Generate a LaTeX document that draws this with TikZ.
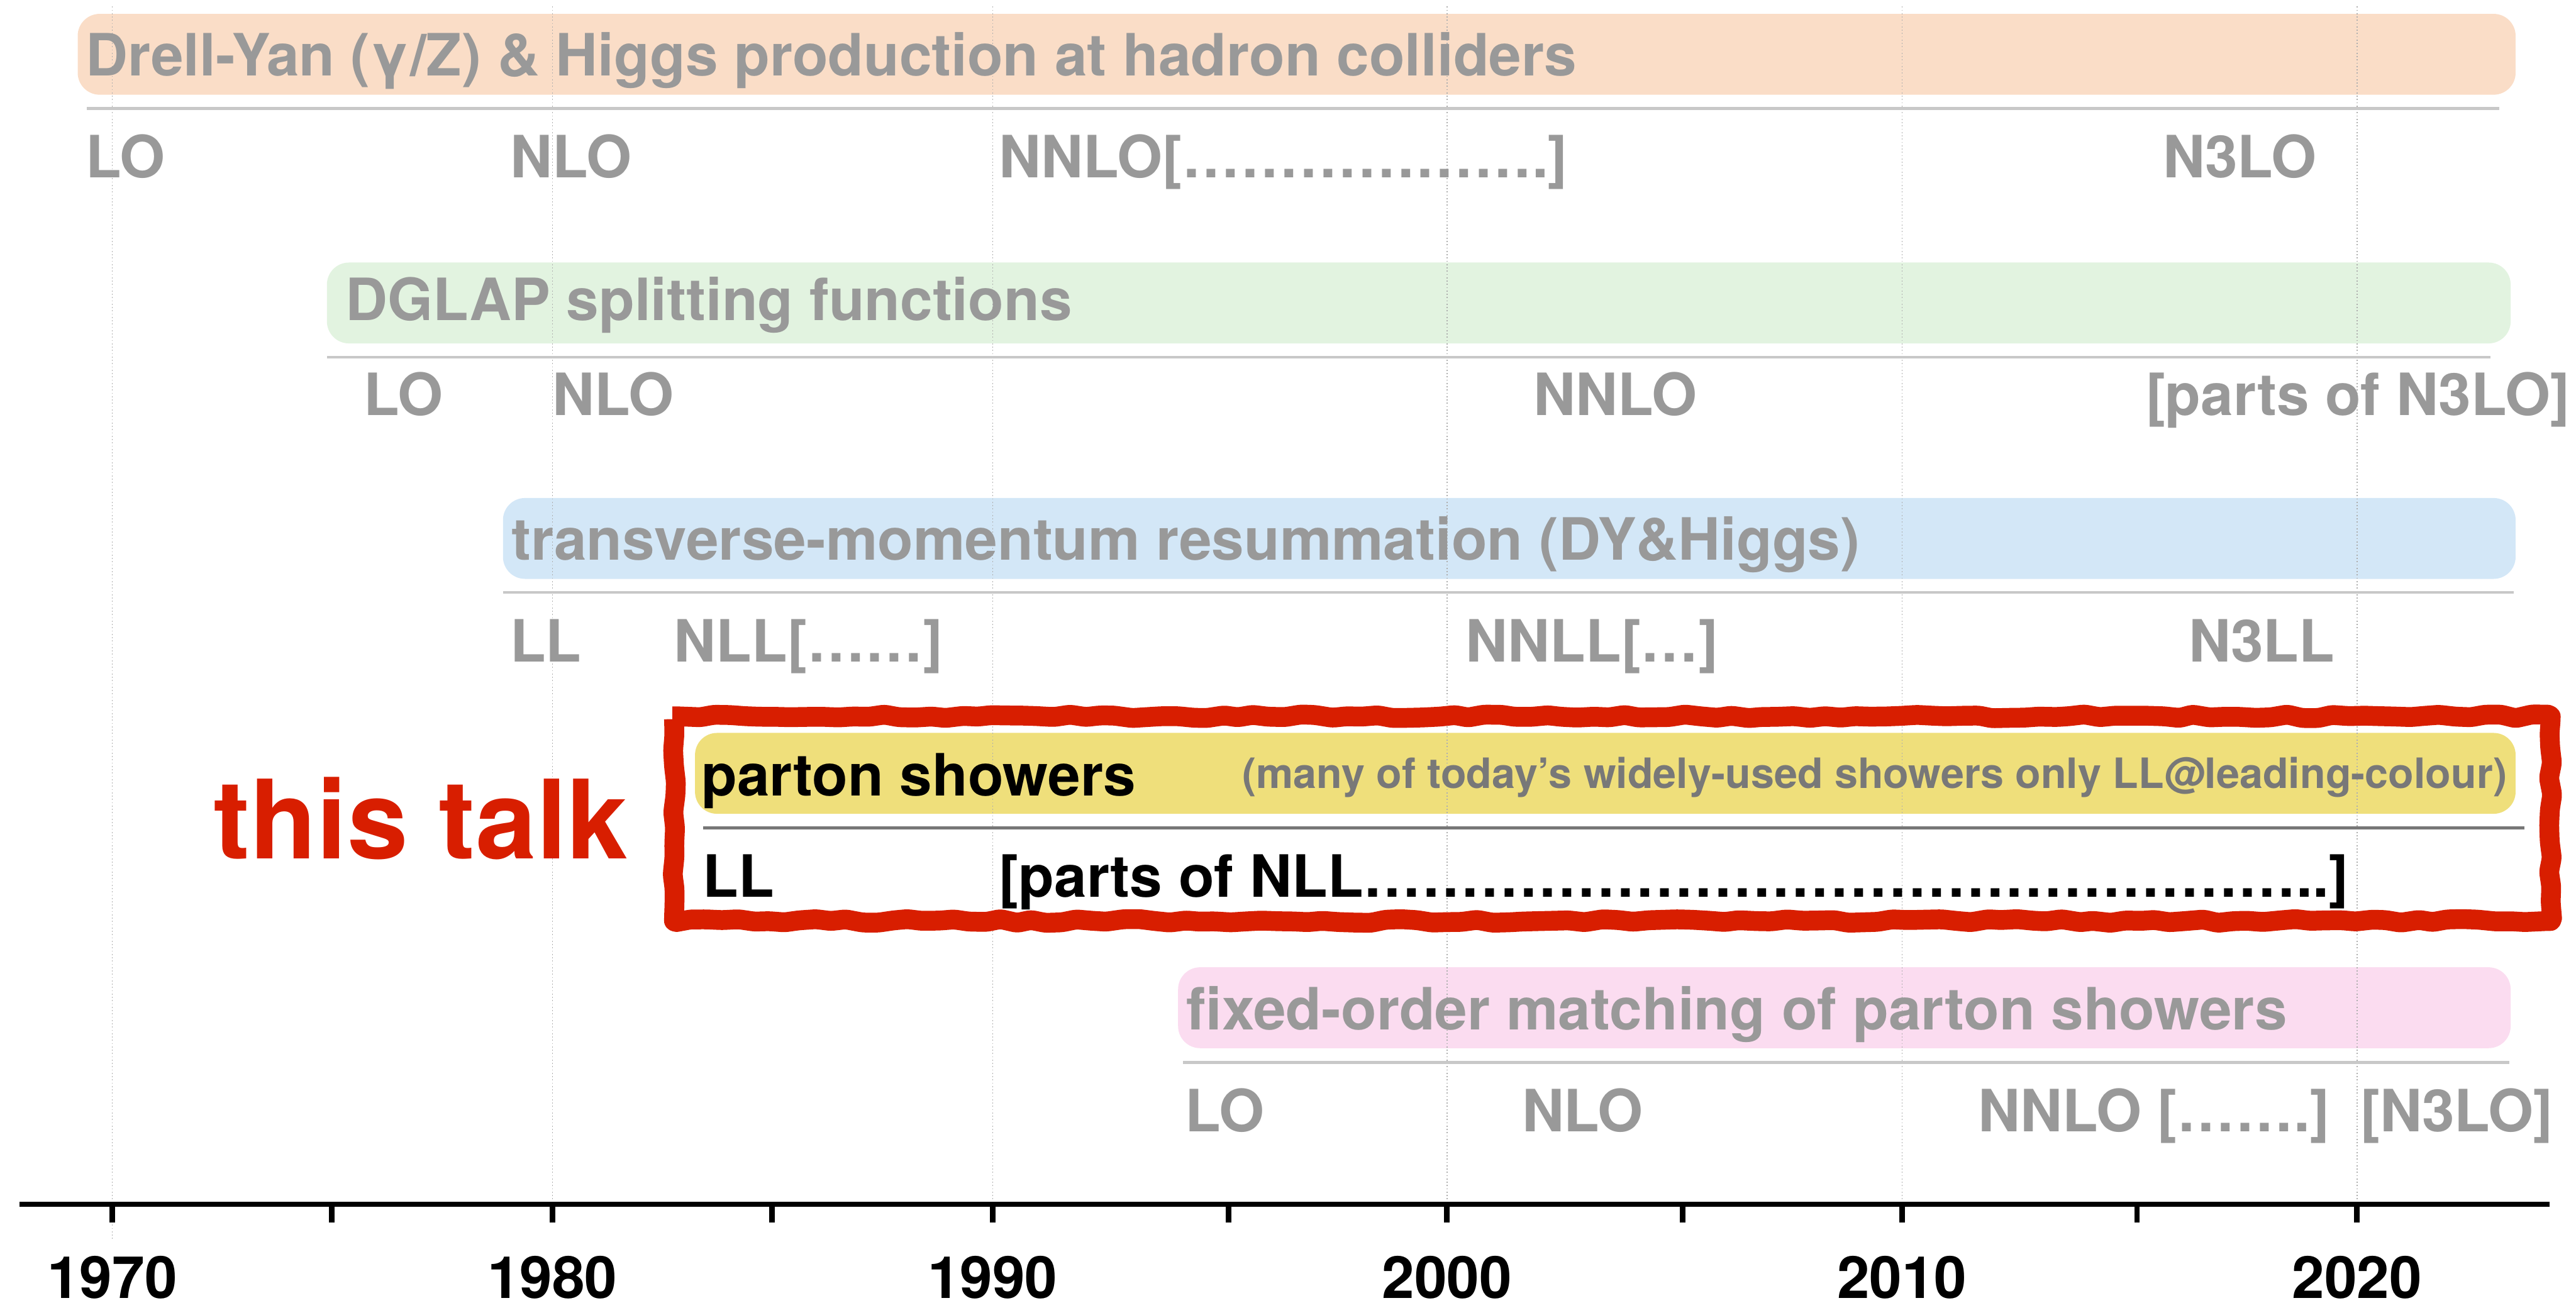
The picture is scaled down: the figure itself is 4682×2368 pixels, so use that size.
\documentclass[tikz,border=0pt]{standalone}
\usepackage{fontspec}
\setmainfont{TeX Gyre Heros}
\usetikzlibrary{decorations.pathmorphing}

\definecolor{barpeach}{RGB}{250,221,199}
\definecolor{bargreen}{RGB}{226,243,224}
\definecolor{barblue}{RGB}{211,231,247}
\definecolor{baryellow}{RGB}{239,223,123}
\definecolor{barpink}{RGB}{251,220,240}
\definecolor{talkred}{RGB}{216,30,0}
\definecolor{labelgray}{RGB}{153,153,153}
\definecolor{notegray}{RGB}{120,120,120}
\definecolor{seplight}{RGB}{200,200,200}
\definecolor{sepdark}{RGB}{119,119,119}
\definecolor{gridgray}{RGB}{175,175,175}

% a run of n ellipsis glyphs
\newcommand\ellrun[1]{\foreach\k in {1,...,#1}{…}}

\begin{document}
\begin{tikzpicture}[x=1pt,y=-1pt,
  big/.style={font=\bfseries\fontsize{106}{120}\selectfont},
  lbl/.style={big, anchor=base west, inner sep=0pt, text=labelgray},
  blk/.style={big, anchor=base west, inner sep=0pt, text=black},
  bar/.style={fill=#1, draw=none, rounded corners=40pt, anchor=north west,
              inner sep=0pt, minimum height=147pt},
  sepline/.style={draw=seplight, line width=5pt},
  gridline/.style={draw=gridgray, line width=1.6pt, dash pattern=on 2pt off 4pt},
  yearlbl/.style={big, anchor=base, inner sep=0pt, text=black},
  frame/.style={draw=talkred, line width=36pt, line join=round,
                decorate, decoration={random steps, segment length=28pt, amplitude=3.5pt},
                rounded corners=5pt}
]
\useasboundingbox (0,0) rectangle (4682,2368);
\pgfmathsetseed{7}

% ---- coloured bars
\node[bar=barpeach,  minimum width=4431pt] (dybar)    at (141,25)   {};
\node[bar=bargreen,  minimum width=3969pt] (dglapbar) at (594,477)  {};
\node[bar=barblue,   minimum width=3658pt] (qtbar)    at (914,905)  {};
\node[bar=baryellow, minimum width=3309pt] (psbar)    at (1263,1332){};
\node[bar=barpink,   minimum width=2422pt] (fobar)    at (2141,1758){};

% ---- decade grid lines
\foreach \gx in {1004,1804,2630,3457,4284}
  \draw[gridline] (\gx,12) -- (\gx,2189);
\draw[gridline] (204,12) -- (204,2252);

% ---- separators under each bar
\draw[sepline] (158,197)   -- (4542,197);
\draw[sepline] (594,649)   -- (4527,649);
\draw[sepline] (914,1077)  -- (4569,1077);
\draw[sepline, draw=sepdark] (1278,1505) -- (4588,1505);
\draw[sepline] (2150,1931) -- (4561,1931);

% ---- row 1: Drell-Yan & Higgs
\node[lbl] (dytitle) at (156,138) {Drell-Yan (γ/Z) \& Higgs production at hadron colliders};
\node[lbl] (dylo)   at (156,323)  {LO};
\node[lbl] (dynlo)  at (927,323)  {NLO};
\node[lbl] (dynnlo) at (1816,323) {NNLO[\ellrun{6}.]};
\node[lbl] (dyn3lo) at (3931,323) {N3LO};

% ---- row 2: DGLAP
\node[lbl] (dgtitle) at (628,582) {DGLAP splitting functions};
\node[lbl] (dglo)   at (661,755)  {LO};
\node[lbl] (dgnlo)  at (1004,755) {NLO};
\node[lbl] (dgnnlo) at (2787,755) {NNLO};
\node[lbl] (dgn3lo) at (3900,755) {[parts of N3LO]};

% ---- row 3: transverse-momentum resummation
\node[lbl] (qttitle) at (930,1018) {transverse-momentum resummation (DY\&Higgs)};
\node[lbl] (qtll)   at (927,1203)  {LL};
\node[lbl] (qtnll)  at (1225,1203) {NLL[\ellrun{2}]};
\node[lbl] (qtnnll) at (2664,1203) {NNLL[\ellrun{1}]};
\node[lbl] (qtn3ll) at (3978,1203) {N3LL};

% ---- row 4: parton showers
\node[blk] (pstitle) at (1275,1446) {parton showers};
\node[anchor=base west, inner sep=0pt, text=notegray,
      font=\bfseries\fontsize{76}{86}\selectfont] (psnote) at (2258,1433)
      {(many of today’s widely-used showers only LL@leading-colour)};
\node[blk] (psll)  at (1277,1630) {LL};
\node[blk] (psnll) at (1816,1630) {[parts of NLL\ellrun{16}..]};

% ---- row 5: fixed-order matching
\node[lbl] (fotitle) at (2156,1872) {fixed-order matching of parton showers};
\node[lbl] (folo)   at (2154,2057) {LO};
\node[lbl] (fonlo)  at (2766,2057) {NLO};
\node[lbl] (fonnlo) at (3595,2057) {NNLO [\ellrun{2}.]};
\node[lbl] (fon3lo) at (4290,2057) {[N3LO]};

% ---- highlight
\draw[frame] (1225,1302) rectangle (4636,1674);
\node[anchor=base west, inner sep=0pt, text=talkred,
      font=\bfseries\fontsize{199}{220}\selectfont] (thistalk) at (388,1561) {this talk};

% ---- year axis
\draw[line width=10pt] (36,2189) -- (4634,2189);
\foreach \tx in {204,603,1004,1403,1804,2233,2630,3058,3457,3884,4284}
  \draw[line width=10pt] (\tx,2189) -- (\tx,2222);
\node[yearlbl] (y1970) at (204,2360)  {1970};
\node[yearlbl] (y1980) at (1004,2360) {1980};
\node[yearlbl] (y1990) at (1804,2360) {1990};
\node[yearlbl] (y2000) at (2630,2360) {2000};
\node[yearlbl] (y2010) at (3457,2360) {2010};
\node[yearlbl] (y2020) at (4284,2360) {2020};
\end{tikzpicture}
\end{document}
